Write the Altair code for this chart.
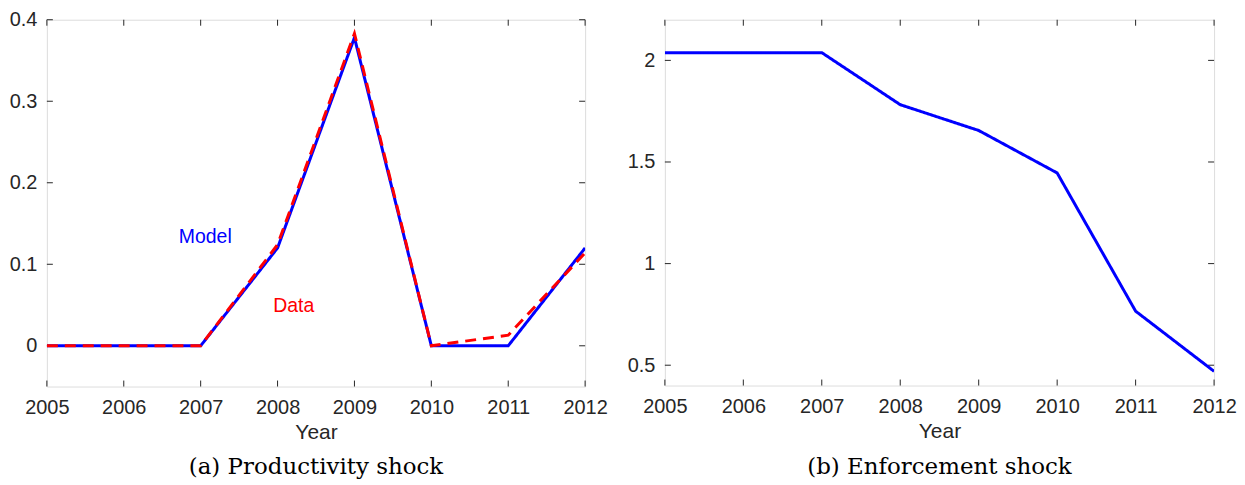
import altair as alt
import pandas as pd

years = [2005, 2006, 2007, 2008, 2009, 2010, 2011, 2012]
model_prod = [0, 0, 0, 0.12, 0.378, 0, 0, 0.12]
data_prod = [0, 0, 0, 0.124, 0.383, 0, 0.013, 0.114]
enforce = [2.038, 2.038, 2.038, 1.782, 1.655, 1.446, 0.766, 0.47]

x_ticks = years
y_ticks_a = [0, 0.1, 0.2, 0.3, 0.4]
y_ticks_b = [0.5, 1, 1.5, 2]

label_text = ["Model", "Data"]
label_x = [2007.06, 2008.21]
label_y = [0.134, 0.0486]
label_color = ["#0000FF", "#FF0000"]

FONT = "Liberation Sans"
SERIF = "DejaVu Serif"
AX = "#262626"
TICK_LEN = 6

def panel(df_lines, y_dom, y_ticks, W, H, caption, cap_offset, labels=None):
    xs = alt.Scale(domain=[2005, 2012], nice=False, zero=False)
    ys = alt.Scale(domain=y_dom, nice=False, zero=False)
    xax = alt.Axis(values=x_ticks, format="d", ticks=False, domain=False, grid=False,
                   labelFont=FONT, labelFontSize=20, labelColor=AX, labelPadding=11,
                   title="Year", titleFont=FONT, titleFontSize=21, titleFontWeight="normal",
                   titleColor=AX, titlePadding=4, labelFlush=False)
    yax = alt.Axis(values=y_ticks, format="~g", ticks=False, domain=False, grid=False,
                   labelFont=FONT, labelFontSize=20, labelColor=AX, labelPadding=10,
                   title=None)
    base = alt.Chart(df_lines).mark_line(strokeWidth=3, clip=True).encode(
        x=alt.X("year:Q", scale=xs, axis=xax),
        y=alt.Y("value:Q", scale=ys, axis=yax),
        color=alt.Color("series:N", scale=alt.Scale(domain=["Model", "Data"], range=["#0000FF", "#FF0000"]), legend=None),
        strokeDash=alt.StrokeDash("series:N", scale=alt.Scale(domain=["Model", "Data"], range=[[1, 0], [11, 7]]), legend=None),
        order=alt.Order("ord:Q"),
        detail="series:N",
    )
    xt = pd.DataFrame({"t": x_ticks})
    yt = pd.DataFrame({"t": y_ticks})
    bot = alt.Chart(xt).mark_rule(color=AX, strokeWidth=1).encode(
        x=alt.X("t:Q", scale=xs), y=alt.value(H), y2=alt.value(H - TICK_LEN))
    top = alt.Chart(xt).mark_rule(color=AX, strokeWidth=1).encode(
        x=alt.X("t:Q", scale=xs), y=alt.value(0), y2=alt.value(TICK_LEN))
    lft = alt.Chart(yt).mark_rule(color=AX, strokeWidth=1).encode(
        y=alt.Y("t:Q", scale=ys), x=alt.value(0), x2=alt.value(TICK_LEN))
    rgt = alt.Chart(yt).mark_rule(color=AX, strokeWidth=1).encode(
        y=alt.Y("t:Q", scale=ys), x=alt.value(W), x2=alt.value(W - TICK_LEN))
    layers = [bot, top, lft, rgt, base]
    if labels is not None:
        txt = alt.Chart(labels).mark_text(font=FONT, fontSize=19.5).encode(
            x=alt.X("x:Q", scale=xs), y=alt.Y("y:Q", scale=ys),
            text="text:N", color=alt.Color("color:N", scale=None))
        layers.append(txt)
    return alt.layer(*layers).properties(
        width=W, height=H,
        title=alt.TitleParams(caption, orient="bottom", font=SERIF, fontSize=23,
                              fontWeight="normal", color="#000000", offset=cap_offset, anchor="middle"))

rows_a = []
for i, y in enumerate(years):
    rows_a.append({"year": y, "value": model_prod[i], "series": "Model", "ord": i})
for i, y in enumerate(years):
    rows_a.append({"year": y, "value": data_prod[i], "series": "Data", "ord": i})
df_a = pd.DataFrame(rows_a)
df_b = pd.DataFrame({"year": years, "value": enforce, "series": "Model", "ord": list(range(len(years)))})
labels_df = pd.DataFrame({"text": label_text, "x": label_x, "y": label_y, "color": label_color})

left = panel(df_a, [-0.05, 0.4], y_ticks_a, 540, 368, "(a) Productivity shock", 14, labels_df)
right = panel(df_b, [0.4, 2.2], y_ticks_b, 551, 367, "(b) Enforcement shock", 15)

chart = alt.hconcat(left, right, spacing=18,
                    padding={"left": 0, "top": 0, "right": 0, "bottom": 0}).configure_view(
    stroke=AX, strokeWidth=1
).configure(background="white")

chart.save("out.html", embed_options={"renderer": "svg", "actions": False})
